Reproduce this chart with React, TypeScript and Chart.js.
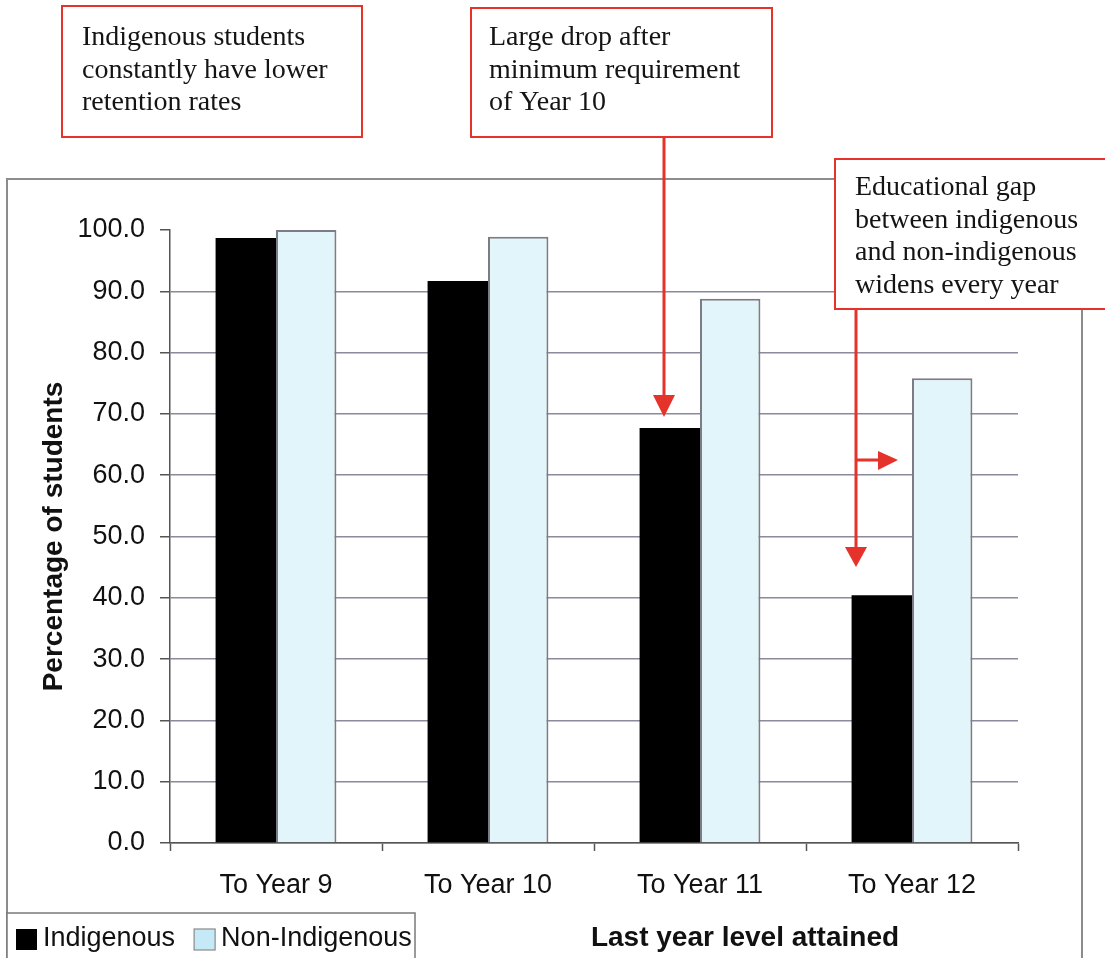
import React, { useEffect, useRef } from 'react';
import { Chart, registerables } from 'chart.js';

Chart.register(...registerables);

// ---- Data ----
const categories = ['To Year 9', 'To Year 10', 'To Year 11', 'To Year 12'];
const indigenous = [98.7, 91.7, 67.7, 40.4];
const nonIndigenous = [100.0, 98.9, 88.8, 75.8];
const seriesLabels = ['Indigenous', 'Non-Indigenous'];
const yMin = 0;
const yMax = 100;
const yStep = 10;
const xTitle = 'Last year level attained';
const yTitle = 'Percentage of students';
const note1 = ['Indigenous students', 'constantly have lower', 'retention rates'];
const note2 = ['Large drop after', 'minimum requirement', 'of Year 10'];
const note3 = ['Educational gap', 'between indigenous', 'and non-indigenous', 'widens every year'];

const SANS = '"Liberation Sans", Arial, sans-serif';
const SERIF = '"Liberation Serif", "Times New Roman", serif';
const RED = '#e5322a';
const BAR_BLUE = '#e2f5fb';
const LEGEND_BLUE = '#c6e9f7';

function drawNote(ctx: CanvasRenderingContext2D, x: number, y: number, w: number, h: number, lines: string[], tx: number, firstBaseline: number) {
  ctx.fillStyle = '#ffffff';
  ctx.fillRect(x, y, w, h);
  ctx.strokeStyle = RED;
  ctx.lineWidth = 2;
  ctx.strokeRect(x, y, w, h);
  ctx.fillStyle = '#141414';
  ctx.font = `28px ${SERIF}`;
  ctx.textAlign = 'left';
  ctx.textBaseline = 'alphabetic';
  lines.forEach((l, i) => ctx.fillText(l, tx, firstBaseline + i * 32.5));
}

function tri(ctx: CanvasRenderingContext2D, pts: number[][]) {
  ctx.beginPath();
  ctx.moveTo(pts[0][0], pts[0][1]);
  ctx.lineTo(pts[1][0], pts[1][1]);
  ctx.lineTo(pts[2][0], pts[2][1]);
  ctx.closePath();
  ctx.fill();
}

const overlay = {
  id: 'overlay',
  beforeDraw(chart: any) {
    const ctx = chart.ctx as CanvasRenderingContext2D;
    ctx.save();
    ctx.fillStyle = '#ffffff';
    ctx.fillRect(0, 0, chart.width, chart.height);
    ctx.strokeStyle = '#8c8c8c';
    ctx.lineWidth = 2;
    ctx.strokeRect(7, 179, 1082 - 7, 1000);
    ctx.restore();
  },
  afterDraw(chart: any) {
    const ctx = chart.ctx as CanvasRenderingContext2D;
    ctx.save();

    // legend
    ctx.fillStyle = '#ffffff';
    ctx.fillRect(7, 913, 408, 60);
    ctx.strokeStyle = '#7a7a7a';
    ctx.lineWidth = 1.5;
    ctx.strokeRect(7, 913, 408, 60);
    ctx.font = `27px ${SANS}`;
    ctx.textBaseline = 'middle';
    ctx.textAlign = 'left';
    let lx = 16;
    const swatches = ['#000000', LEGEND_BLUE];
    chart.data.datasets.forEach((d: any, i: number) => {
      ctx.fillStyle = swatches[i];
      ctx.fillRect(lx, 929, 21, 21);
      if (i === 1) {
        ctx.strokeStyle = '#8a8a8a';
        ctx.lineWidth = 1.2;
        ctx.strokeRect(lx, 929, 21, 21);
      }
      ctx.fillStyle = '#111111';
      ctx.fillText(d.label, lx + 27, 939);
      lx += 27 + ctx.measureText(d.label).width + 19;
    });

    // x axis title
    ctx.font = `bold 28px ${SANS}`;
    ctx.textAlign = 'center';
    ctx.textBaseline = 'middle';
    ctx.fillStyle = '#111111';
    ctx.fillText(xTitle, 745, 938);

    // notes
    drawNote(ctx, 62, 6, 300, 131, note1, 82, 45);
    drawNote(ctx, 471, 8, 301, 129, note2, 489, 45);
    drawNote(ctx, 835, 159, 290, 150, note3, 855, 195);

    // arrows
    ctx.strokeStyle = RED;
    ctx.fillStyle = RED;
    ctx.lineWidth = 3;
    ctx.beginPath();
    ctx.moveTo(664, 138);
    ctx.lineTo(664, 397);
    ctx.moveTo(856, 310);
    ctx.lineTo(856, 549);
    ctx.moveTo(856, 460);
    ctx.lineTo(880, 460);
    ctx.stroke();
    tri(ctx, [[653, 395], [675, 395], [664, 417]]);
    tri(ctx, [[845, 547], [867, 547], [856, 567]]);
    tri(ctx, [[878, 451], [878, 470], [898, 460]]);

    ctx.restore();
  },
};

export default function App() {
  const ref = useRef<HTMLCanvasElement | null>(null);

  useEffect(() => {
    if (!ref.current) return;
    const chart = new Chart(ref.current, {
      type: 'bar',
      data: {
        labels: categories,
        datasets: [
          {
            label: seriesLabels[0],
            data: indigenous,
            backgroundColor: '#000000',
            borderWidth: 0,
          },
          {
            label: seriesLabels[1],
            data: nonIndigenous,
            backgroundColor: BAR_BLUE,
            borderColor: '#7c7c84',
            borderWidth: 2,
          },
        ],
      },
      options: {
        responsive: false,
        animation: false,
        layout: { padding: { top: 230, right: 87, bottom: 0, left: 0 } },
        datasets: { bar: { categoryPercentage: 0.57, barPercentage: 1.0 } },
        plugins: {
          legend: { display: false },
          tooltip: { enabled: false },
        },
        scales: {
          x: {
            grid: {
              display: true,
              drawOnChartArea: false,
              offset: true,
              tickLength: 8,
              tickColor: '#555555',
              tickWidth: 1.5,
            },
            border: { color: '#555555', width: 1.5 },
            ticks: {
              color: '#111111',
              font: { family: SANS, size: 27 },
              padding: 18,
              maxRotation: 0,
            },
            afterFit: (s: any) => {
              s.height = 115;
            },
          },
          y: {
            min: yMin,
            max: yMax,
            ticks: {
              stepSize: yStep,
              callback: (v: any) => Number(v).toFixed(1),
              color: '#111111',
              font: { family: SANS, size: 27 },
              padding: 15,
            },
            grid: {
              color: (c: any) => (c.tick && c.tick.value === yMax ? 'rgba(0,0,0,0)' : '#8a8a9c'),
              lineWidth: 1.5,
              tickLength: 10,
              tickColor: '#555555',
              tickWidth: 1.5,
            },
            border: { color: '#555555', width: 1.5 },
            title: {
              display: true,
              text: yTitle,
              color: '#111111',
              font: { family: SANS, size: 28, weight: 'bold' },
              padding: { top: 37, bottom: 0 },
            },
            afterFit: (s: any) => {
              s.width = 170;
            },
          },
        },
      },
      plugins: [overlay],
    });
    return () => chart.destroy();
  }, []);

  return (
    <div style={{ position: 'fixed', left: 0, top: 0, width: 1105, height: 958, background: '#fff' }}>
      <canvas ref={ref} width={1105} height={958} style={{ display: 'block' }} />
    </div>
  );
}
